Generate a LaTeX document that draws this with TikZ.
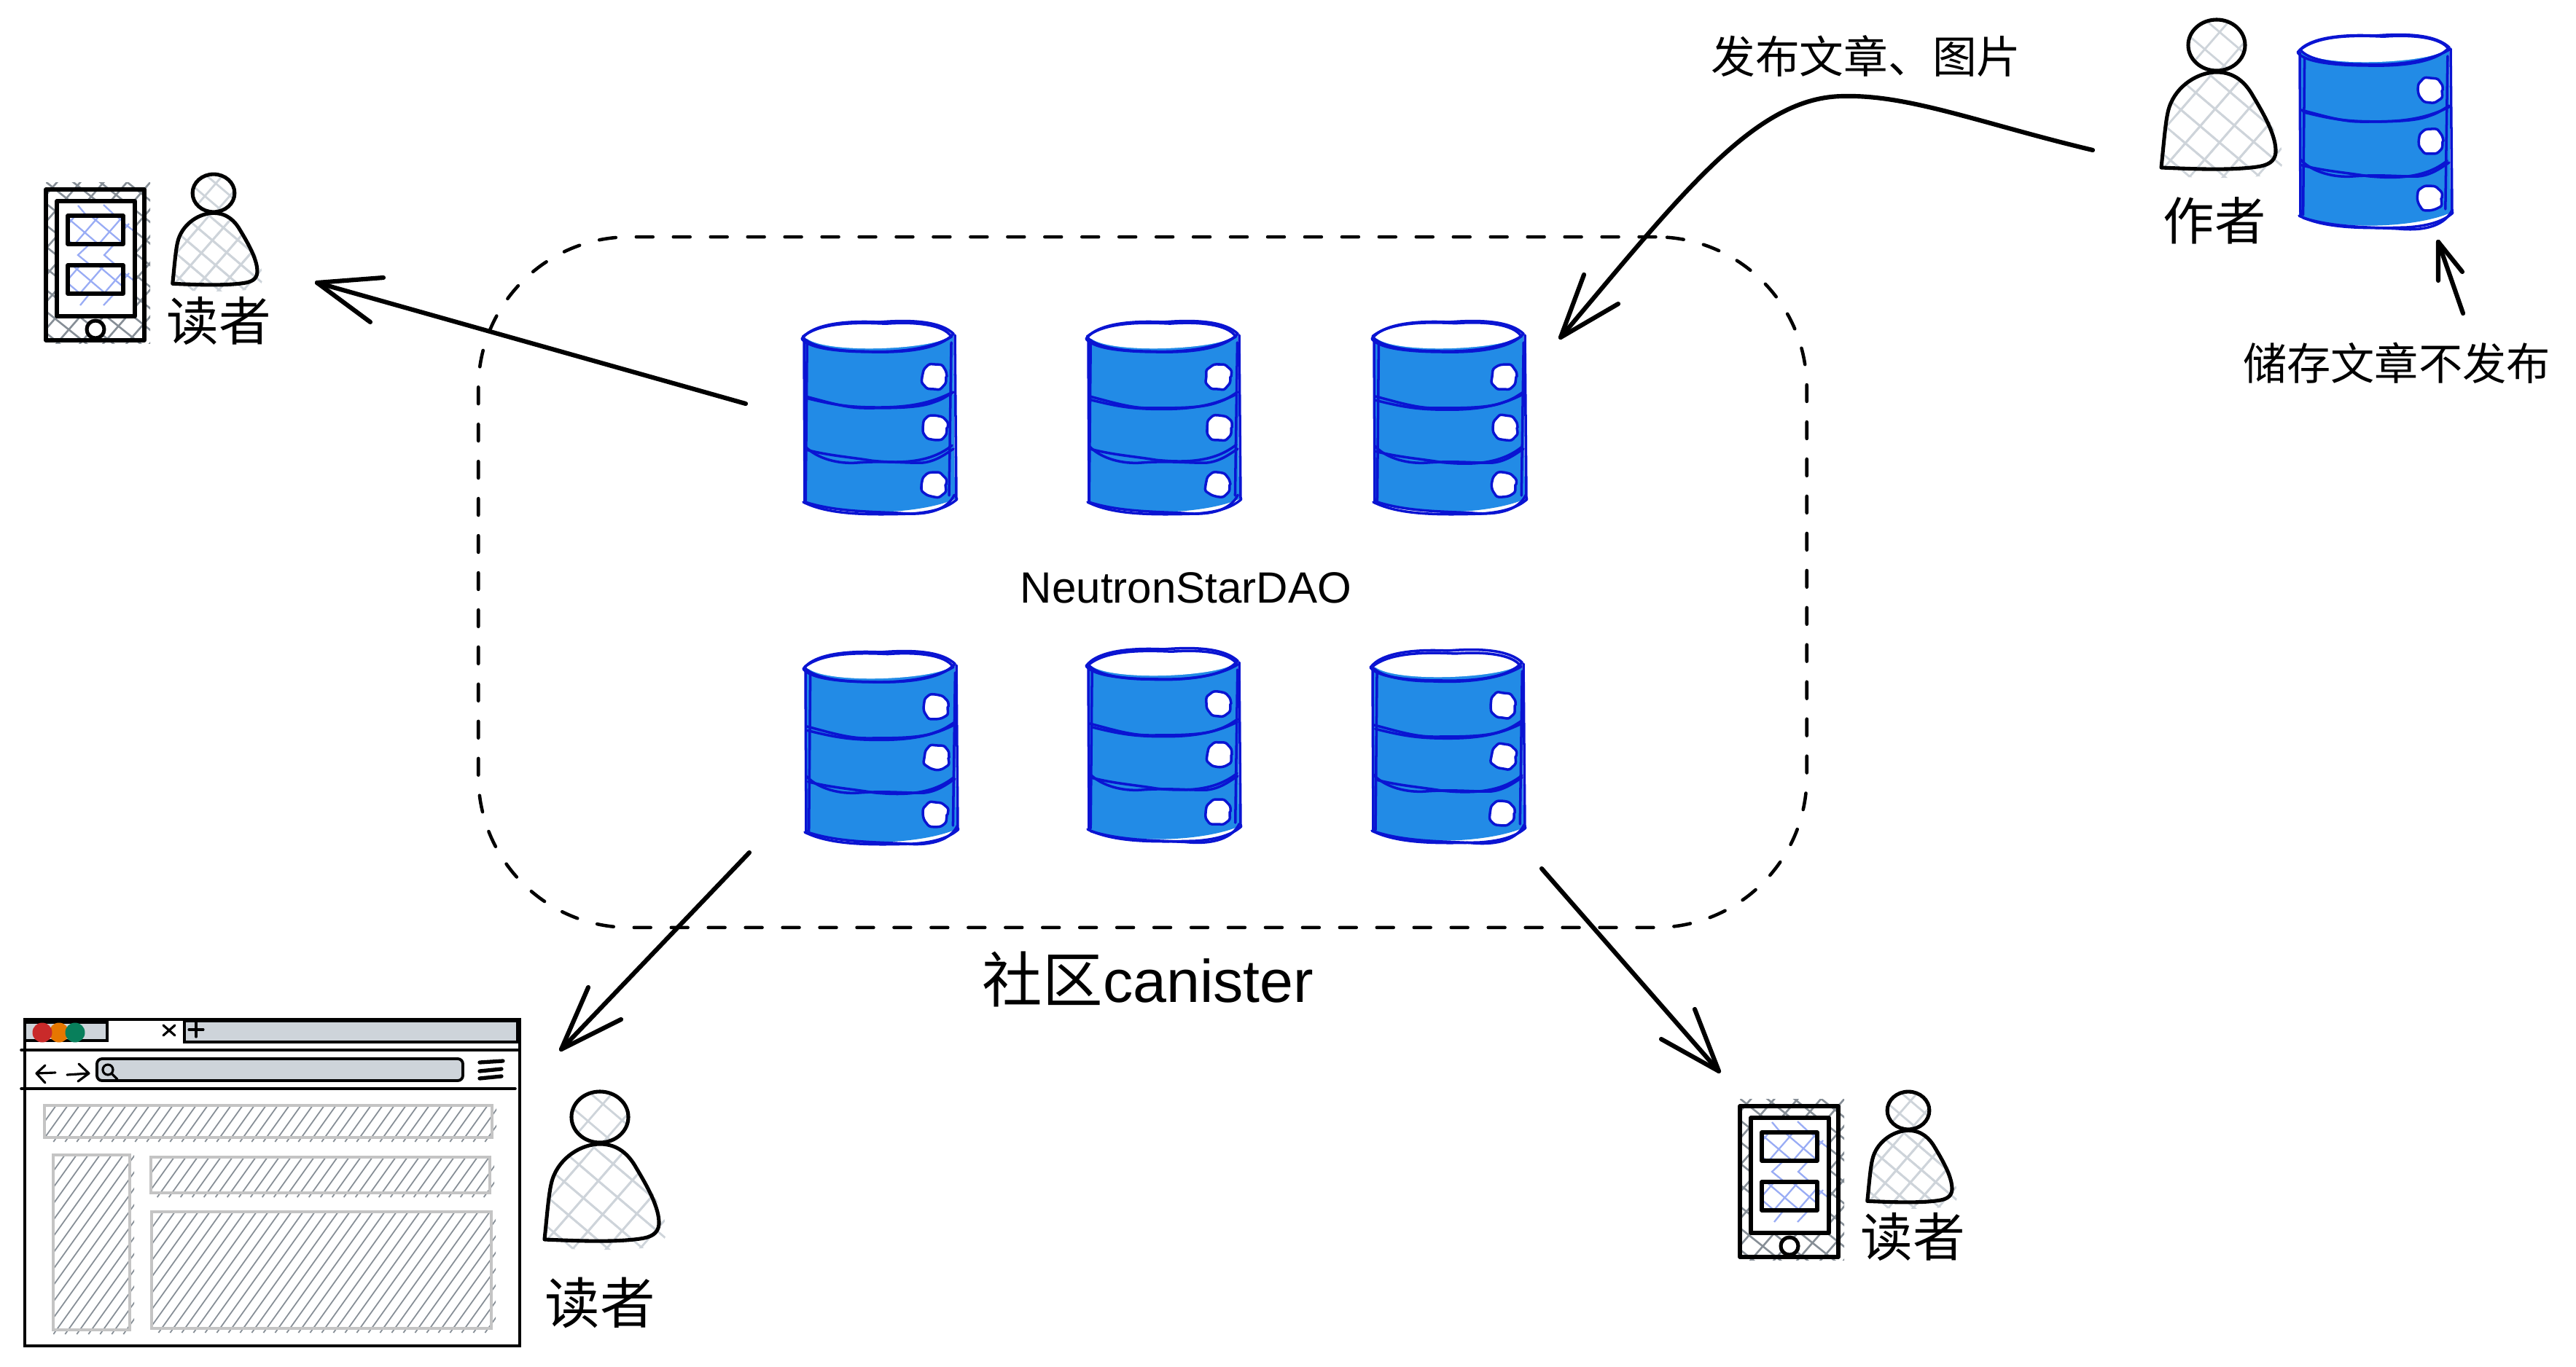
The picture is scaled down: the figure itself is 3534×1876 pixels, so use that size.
\documentclass[tikz,border=0pt]{standalone}
\usepackage{fontspec}
\setmainfont{Liberation Sans}
\newfontfamily\cjk{Noto Sans CJK SC}
\usetikzlibrary{decorations.pathmorphing}
\definecolor{dbfill}{HTML}{228BE6}
\definecolor{dbline}{HTML}{0A14D2}
\definecolor{gbar}{HTML}{CED4DA}
\definecolor{gborder}{HTML}{C4C4C4}
\definecolor{ghatch}{HTML}{868E96}
\definecolor{bhatch}{HTML}{99ACF5}
\definecolor{tred}{HTML}{C92A2A}
\definecolor{torange}{HTML}{E67700}
\definecolor{tgreen}{HTML}{087F5B}
\tikzset{
  conn/.style={line width=3.5pt,line cap=round,line join=round,black},
  dbstroke/.style={line width=2pt,draw=dbline,line cap=round,line join=round},
  dbhole/.style={dbstroke,fill=white,decorate,decoration={random steps,segment length=5.5pt,amplitude=.8pt},rounded corners=1.5pt},
  ink/.style={line width=2.9pt,draw=black,line cap=round,line join=round},
  thin ink/.style={line width=1.8pt,draw=black,line cap=round,line join=round},
  txt/.style={inner sep=0pt,outer sep=0pt,anchor=center,text=black},
  dbbox/.style={inner sep=0pt,minimum width=121pt,minimum height=152pt,anchor=north},
}
% hatch helpers: x0,y0,x1,y1,dx,slope,style
\newcommand\hatchdn[7]{%
  \pgfmathsetmacro\myrun{(#4-#2)/#6}%
  \pgfmathsetmacro\mystart{#1-\myrun}%
  \pgfmathsetmacro\mynext{\mystart+#5}%
  \foreach \c in {\mystart,\mynext,...,#3} \draw[#7] (\c,#2) -- ({\c+\myrun},#4);%
}
\newcommand\hatchup[7]{%
  \pgfmathsetmacro\myrun{(#4-#2)/#6}%
  \pgfmathsetmacro\mystart{#1-\myrun}%
  \pgfmathsetmacro\mynext{\mystart+#5}%
  \foreach \c in {\mystart,\mynext,...,#3} \draw[#7] (\c,#4) -- ({\c+\myrun},#2);%
}
\newcommand\hrect[4]{%
  \begin{scope}
    \clip (#1,#2) rectangle ({#3+6},{#4+6});
    \hatchup{#1}{#2}{#3}{{#4+6}}{16}{1.4}{line width=1pt,ghatch}
  \end{scope}
  \draw[line width=2.2pt,gborder,fill=none] (#1,#2) rectangle (#3,#4);
}
% database: name, centre x, top y
\newcommand\dbcyl[3]{%
  \node[dbbox] (#1) at (#2,#3) {};
  \begin{scope}[shift={(#2,#3)}]
    \pgfmathsetmacro\ja{rnd*4-2}\pgfmathsetmacro\jb{rnd*4-2}
    \pgfmathsetmacro\jc{rnd*4-2}\pgfmathsetmacro\jd{rnd*4-2}
    \fill[dbfill] (-103,25) -- (102,18) -- (104,245) .. controls (60,264) and (-40,271) .. (-104,249) -- cycle;
    \fill[white] (-102,22) .. controls (-75,5) and (70,3) .. (101,18) .. controls (90,40) and (-80,48) .. (-102,22) -- cycle;
    \draw[dbstroke] (-106,25) .. controls (-90,3) and (-40,0) .. (0,2) .. controls (50,-2) and (85,2) .. (102,18) .. controls (85,38) and (40,44) .. (-6,43) .. controls (-45,43) and (-95,40) .. (-106,25);
    \draw[dbstroke,shift={(\ja,\jb)}] (-104,22) .. controls (-80,2) and (-30,2) .. (10,4) .. controls (50,1) and (90,5) .. (100,22) .. controls (70,40) and (20,44) .. (-20,42) .. controls (-60,42) and (-95,35) .. (-104,22);
    \draw[dbstroke] (-103,25) -- (-102,250);
    \draw[dbstroke,shift={(\jc,0)}] (-98,32) -- (-100,248);
    \draw[dbstroke] (104,20) -- (106,245);
    \draw[dbstroke,shift={(\jd,0)}] (101,30) -- (98,240);
    \draw[dbstroke] (-101,104) .. controls (-70,112) and (-45,120) .. (-20,120) .. controls (20,120) and (55,120) .. (75,112) .. controls (88,108) and (95,102) .. (102,98);
    \draw[dbstroke,shift={(\ja,\jd)}] (-100,108) .. controls (-60,118) and (-40,121) .. (0,121) .. controls (40,121) and (70,116) .. (100,101);
    \draw[dbstroke] (-102,172) .. controls (-85,190) and (-55,197) .. (-30,195) .. controls (10,192) and (40,196) .. (60,195) .. controls (80,193) and (95,180) .. (102,176);
    \draw[dbstroke,shift={(\jb,\jc)}] (-100,178) .. controls (-70,186) and (-40,188) .. (-10,193) .. controls (30,197) and (70,196) .. (100,172);
    \draw[dbstroke] (-104,249) .. controls (-70,266) and (-20,267) .. (44,265) .. controls (75,263) and (95,256) .. (107,245);
    \draw[dbstroke,shift={(\jc,\ja)}] (-100,250) .. controls (-60,263) and (-10,263) .. (30,265) .. controls (70,269) and (95,259) .. (104,240);
    \draw[dbhole] (76,77) circle[radius=16];
    \draw[dbhole] (77,147) circle[radius=16];
    \draw[dbhole] (75,225) circle[radius=16];
  \end{scope}%
}
% person: centre of head x,y, scale
\def\personbody{(-76,168) .. controls (-72,130) and (-70,100) .. (-65,85) .. controls (-55,55) and (-25,37) .. (0,37) .. controls (25,37) and (40,52) .. (50,70) .. controls (65,95) and (82,125) .. (81,147) .. controls (80,160) and (70,165) .. (55,167) .. controls (20,172) and (-30,170) .. (-76,168) -- cycle}
\newcommand\personhatch{%
  \hatchdn{-110}{0}{120}{200}{48}{0.85}{line width=1.6pt,gbar}%
  \hatchup{-110}{0}{120}{200}{46}{1.15}{line width=1.6pt,gbar}%
}
\newcommand\person[3]{%
  \begin{scope}[shift={(#1,#2)},scale=#3]
    \begin{scope}\clip (0,0) ellipse[x radius=39,y radius=35];
      \hatchdn{-60}{-50}{60}{50}{48}{0.85}{line width=1.6pt,gbar}%
      \hatchup{-60}{-50}{60}{50}{46}{1.15}{line width=1.6pt,gbar}%
    \end{scope}
    \begin{scope}\clip \personbody; \personhatch \end{scope}
    \begin{scope}\clip[shift={(10,12)}] \personbody; \personhatch \end{scope}
    \draw[ink] (0,0) ellipse[x radius=39,y radius=35];
    \draw[ink] \personbody;
  \end{scope}%
}
% phone group
\newcommand\phone[2]{%
  \begin{scope}[shift={(#1,#2)}]
    \begin{scope}
      \clip (63,250) rectangle (206,471);
      \hatchdn{55}{240}{210}{480}{37}{0.8}{line width=1.5pt,ghatch}
      \hatchup{55}{240}{210}{480}{32}{1.15}{line width=1.5pt,ghatch}
    \end{scope}
    \fill[white] (78,276) rectangle (185,434);
    \begin{scope}
      \clip (93,296) rectangle (169,335) (93,364) rectangle (169,403);
      \hatchdn{60}{270}{200}{420}{35}{0.85}{line width=1.3pt,bhatch}
      \hatchup{60}{270}{200}{420}{33}{1.15}{line width=1.3pt,bhatch}
    \end{scope}
    \foreach \d in {0,68} {
      \draw[line width=1.3pt,bhatch] (168,{305+\d}) -- (185,{318+\d}) (177,{307+\d}) -- (168,{317+\d});
    }
    \draw[line width=1.3pt,bhatch] (123,335) -- (107,350) -- (123,363) (157,335) -- (143,350) -- (158,363)
      (123,403) -- (110,419) (157,403) -- (142,419) (107,282) -- (118,295) (142,281) -- (157,295);
    \draw[ink,fill=none] (63,260) rectangle (198,467);
    \draw[ink] (78,276) rectangle (185,434);
    \draw[ink] (93,296) rectangle (169,335);
    \draw[ink] (93,364) rectangle (169,403);
    \draw[ink,fill=white] (131,452) circle[radius=12];
  \end{scope}%
}
\begin{document}
\begin{tikzpicture}[x=0.02cm,y=-0.02cm]
\useasboundingbox (0,0) rectangle (3534,1876);
\fill[white] (0,0) rectangle (3534,1876);
\pgfmathsetseed{4242}

% community dashed frame
\node[draw,line width=2.6pt,line cap=round,dash pattern=on 13pt off 16pt,rounded corners=118pt,
  minimum width=1823*0.569pt,minimum height=948*0.569pt,inner sep=0pt] (frame) at (1567.5,799) {};

% databases
\dbcyl{dbA}{1206}{440}
\dbcyl{dbB}{1596}{440}
\dbcyl{dbC}{1988}{440}
\dbcyl{dbD}{1208}{893}
\dbcyl{dbE}{1596}{889}
\dbcyl{dbF}{1986}{891}
\dbcyl{dbAuthor}{3258}{47}

% texts
\node[txt,font=\fontsize{34.2}{40}\selectfont] (lblDao) at (1627,807) {NeutronStarDAO};
\node[txt,font=\fontsize{47}{56}\selectfont] (lblCan) at (1575,1344) {{\cjk 社区}canister};
\node[txt,font=\cjk\fontsize{34.6}{40}\selectfont] (lblPub) at (2560,77) {发布文章、图片};
\node[txt,font=\cjk\fontsize{34.3}{40}\selectfont] (lblStore) at (3288,498) {储存文章不发布};
\node[txt,font=\cjk\fontsize{40}{46}\selectfont] (lblAuthor) at (3038,303) {作者};
\node[txt,font=\cjk\fontsize{43}{48}\selectfont] (lblR1) at (823,1788) {读者};
\node[txt,font=\cjk\fontsize{40.8}{46}\selectfont] (lblR2) at (300,440) {读者};
\node[txt,font=\cjk\fontsize{40.8}{46}\selectfont] (lblR3) at (2624,1697) {读者};

% people
\person{3041}{62}{1}
\person{823}{1533}{1}
\person{293}{265}{0.74}
\person{2618}{1524}{0.74}

% phones
\phone{0}{0}
\phone{2324}{1258}

% browser
\draw[line width=2.3pt,black] (34,1399) rectangle (713,1847);
\draw[line width=2.3pt,black,fill=gbar] (34,1403) rectangle (147,1428);
\fill[torange] (81,1417) circle[radius=13.5];
\fill[tred] (58,1417) circle[radius=13.5];
\fill[tgreen] (103,1417) circle[radius=13.5];
\draw[thin ink] (224,1407) -- (240,1421) (240,1407) -- (224,1421);
\draw[line width=2.6pt,black,fill=gbar] (253,1401) rectangle (710,1430);
\draw[thin ink] (269,1403) -- (269,1423) (259,1413) -- (279,1413);
\draw[line width=2pt,black,line cap=round] (29,1441) -- (711,1441) (29,1494) -- (707,1494);
\draw[line width=2.2pt,black,fill=gbar,rounded corners=4pt] (133,1453) rectangle (635,1483);
\draw[thin ink] (148,1468) circle[radius=7] (153,1473) -- (161,1481);
\draw[thin ink] (76,1472) -- (50,1473) (62,1462) -- (50,1473) -- (62,1486);
\draw[thin ink] (92,1475) -- (122,1473) (108,1460) -- (122,1473) -- (107,1484);
\draw[line width=3pt,black,line cap=round] (658,1458) -- (690,1456) (658,1470) -- (688,1467) (658,1480) -- (688,1477);
\hrect{61}{1517}{675}{1561}
\hrect{73}{1585}{178}{1825}
\hrect{207}{1588}{672}{1637}
\hrect{208}{1663}{674}{1823}

% connectors
\coordinate (authorOut) at (2871,206);
\coordinate (peak) at (2530,132);
\coordinate (pubTip) at (2141,463);
\coordinate (pubB1) at (2173,377);
\coordinate (pubB2) at (2220,417);
\draw[conn] (authorOut) .. controls (2720,170) and (2620,130) .. (peak) .. controls (2410,132) and (2310,262) .. (pubTip);
\draw[conn] (pubB1) -- (pubTip) -- (pubB2);

\coordinate (dbAOut) at (1023,554);
\coordinate (r2Tip) at (435,388);
\coordinate (r2B1) at (526,381);
\coordinate (r2B2) at (508,442);
\draw[conn] (dbAOut) -- (r2Tip);
\draw[conn] (r2B1) -- (r2Tip) -- (r2B2);

\coordinate (dbDOut) at (1028,1170);
\coordinate (r1Tip) at (770,1440);
\coordinate (r1B1) at (807,1355);
\coordinate (r1B2) at (852,1399);
\draw[conn] (dbDOut) -- (r1Tip);
\draw[conn] (r1B1) -- (r1Tip) -- (r1B2);

\coordinate (dbFOut) at (2115,1192);
\coordinate (r3Tip) at (2358,1470);
\coordinate (r3B1) at (2325,1385);
\coordinate (r3B2) at (2279,1426);
\draw[conn] (dbFOut) -- (r3Tip);
\draw[conn] (r3B1) -- (r3Tip) -- (r3B2);

\coordinate (storeOut) at (3379,430);
\coordinate (storeTip) at (3345,332);
\coordinate (storeB1) at (3345,385);
\coordinate (storeB2) at (3378,373);
\draw[conn] (storeOut) -- (storeTip);
\draw[conn] (storeB1) -- (storeTip) -- (storeB2);
\end{tikzpicture}
\end{document}
